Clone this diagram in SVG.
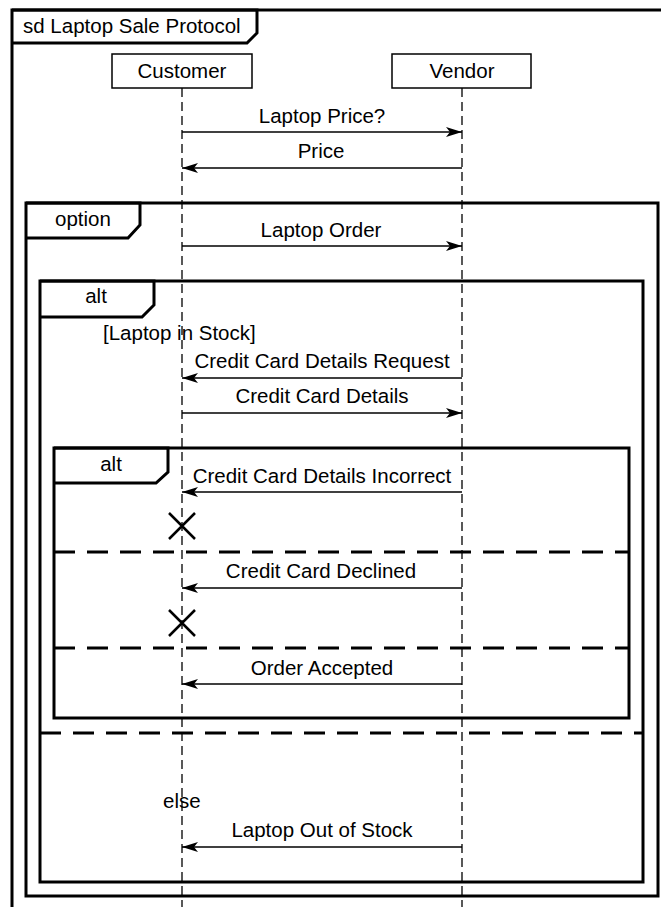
<svg xmlns="http://www.w3.org/2000/svg" width="661" height="907" viewBox="0 0 661 907">
<defs>
<style>
text{font-family:"Liberation Sans",Arial,sans-serif;font-size:20.5px;fill:#000}
.mid{text-anchor:middle}
.frame{fill:none;stroke:#000;stroke-width:3}
.sep{fill:none;stroke:#000;stroke-width:3;stroke-dasharray:21 12}
.box{fill:#fff;stroke:#000;stroke-width:1.5}
.life{fill:none;stroke:#000;stroke-width:1.3;stroke-dasharray:9 5}
.msg{fill:none;stroke:#000;stroke-width:1.5;marker-end:url(#ah)}
.x{fill:none;stroke:#000;stroke-width:2.5}
</style>
<marker id="ah" markerUnits="userSpaceOnUse" markerWidth="17" markerHeight="12" refX="16" refY="5" orient="auto">
<path d="M16,5 L0,0 L4,5 L0,10 Z" fill="#000"/>
</marker>
</defs>

<g id="frame-sd">
<rect class="frame" x="12" y="10" width="700" height="1000"/>
<path class="frame" d="M12,10 H257 V33 L247,43 H12"/>
<text x="23" y="33">sd Laptop Sale Protocol</text>
</g>

<g id="frame-option">
<rect class="frame" x="26" y="203" width="632" height="693"/>
<path class="frame" d="M26,203 H140 V225 L128,238 H26"/>
<text class="mid" x="83" y="226">option</text>
</g>

<g id="frame-alt-stock">
<rect class="frame" x="40" y="281" width="603" height="601"/>
<path class="frame" d="M40,281 H154 V305 L142,317 H40"/>
<text class="mid" x="96" y="303">alt</text>
<text x="103" y="340">[Laptop in Stock]</text>
<line class="sep" x1="40" y1="733" x2="643" y2="733"/>
<text x="163" y="808">else</text>
</g>

<g id="frame-alt-card">
<rect class="frame" x="54" y="448" width="575" height="270"/>
<path class="frame" d="M54,448 H168 V472 L156,483 H54"/>
<text class="mid" x="111" y="471">alt</text>
<line class="sep" x1="54" y1="552" x2="629" y2="552"/>
<line class="sep" x1="54" y1="648" x2="629" y2="648"/>
</g>

<g id="customer">
<line class="life" x1="182" y1="88" x2="182" y2="907"/>
<rect class="box" x="112" y="54" width="140" height="34"/>
<text class="mid" x="182" y="78">Customer</text>
</g>

<g id="vendor">
<line class="life" x1="462" y1="88" x2="462" y2="907"/>
<rect class="box" x="392" y="54" width="139" height="34"/>
<text class="mid" x="462" y="78">Vendor</text>
</g>

<g id="connectors">
<line class="msg" x1="182" y1="132" x2="462" y2="132"/>
<text class="mid" x="322" y="123">Laptop Price?</text>
<line class="msg" x1="462" y1="168" x2="182" y2="168"/>
<text class="mid" x="321" y="158">Price</text>
<line class="msg" x1="182" y1="246" x2="462" y2="246"/>
<text class="mid" x="321" y="237">Laptop Order</text>
<line class="msg" x1="462" y1="378" x2="182" y2="378"/>
<text class="mid" x="322" y="368">Credit Card Details Request</text>
<line class="msg" x1="182" y1="413" x2="462" y2="413"/>
<text class="mid" x="322" y="403">Credit Card Details</text>
<line class="msg" x1="462" y1="492" x2="182" y2="492"/>
<text class="mid" x="322" y="483">Credit Card Details Incorrect</text>
<line class="msg" x1="462" y1="588" x2="182" y2="588"/>
<text class="mid" x="321" y="578">Credit Card Declined</text>
<line class="msg" x1="462" y1="684" x2="182" y2="684"/>
<text class="mid" x="322" y="675">Order Accepted</text>
<line class="msg" x1="462" y1="847" x2="182" y2="847"/>
<text class="mid" x="322" y="837">Laptop Out of Stock</text>
</g>

<g id="destroy-1">
<path class="x" d="M169,513 L195,539 M195,513 L169,539"/>
</g>
<g id="destroy-2">
<path class="x" d="M169,610 L195,636 M195,610 L169,636"/>
</g>
</svg>
